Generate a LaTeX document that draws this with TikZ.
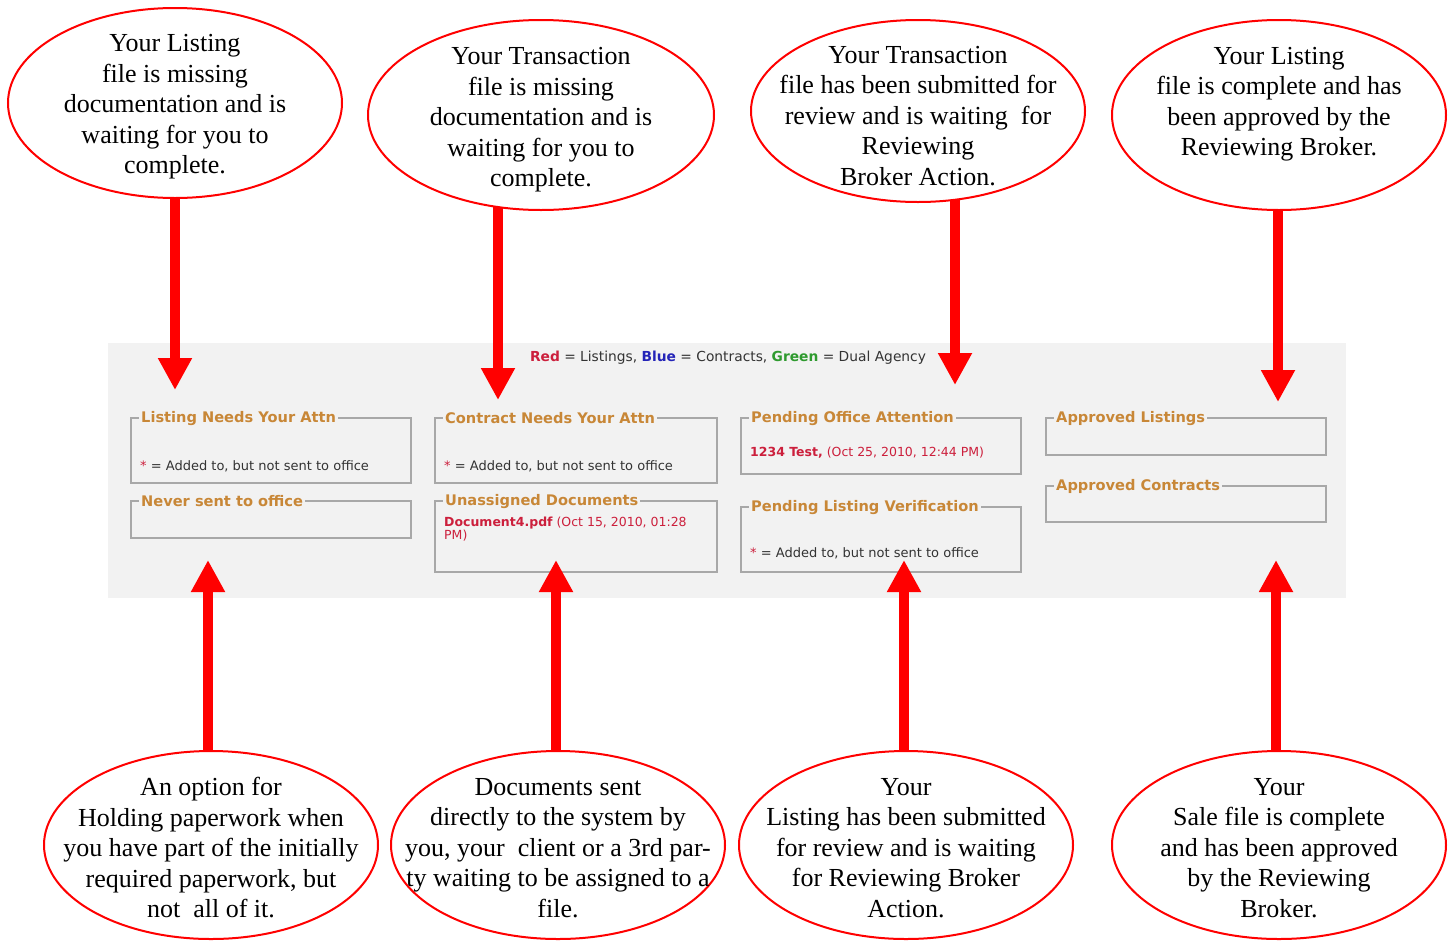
\documentclass[tikz,border=0pt]{standalone}
\usepackage{fontspec}
\setmainfont{Liberation Serif}
\newfontfamily\vsans{DejaVu Sans}
\usetikzlibrary{arrows.meta,shapes.geometric}
\pgfdeclarelayer{background}
\pgfdeclarelayer{foreground}
\pgfsetlayers{background,main,foreground}
\definecolor{panelgray}{HTML}{F2F2F2}
\definecolor{boxgray}{HTML}{A8A8A8}
\definecolor{legor}{RGB}{200,135,55}
\definecolor{crim}{HTML}{CC1F3C}
\definecolor{lblue}{HTML}{2424B8}
\definecolor{lgreen}{HTML}{2E9A2E}
\definecolor{dgray}{HTML}{333333}
\begin{document}
\begin{tikzpicture}[x=1pt,y=-1pt,
  ell/.style={ellipse, draw=red, line width=2pt, fill=white, inner sep=0pt, minimum width=334pt, minimum height=190pt},
  etext/.style={align=center, font=\fontsize{26}{30.5}\selectfont, inner sep=0pt},
  bigarrow/.style={draw=red, line width=10pt, -{Triangle[width=32pt,length=32pt]}},
  fbox/.style={draw=boxgray, line width=1.5pt, anchor=north west, inner sep=0pt},
  legt/.style={fill=panelgray, anchor=west, inner xsep=2pt, inner ysep=1pt, yshift=-1.5pt, text=legor, font=\vsans\bfseries\fontsize{14.6}{16}\selectfont},
  bodyt/.style={anchor=base west, inner sep=0pt, text=dgray, font=\vsans\fontsize{13}{13}\selectfont},
  redt/.style={anchor=base west, inner sep=0pt, text=crim, align=left, font=\vsans\fontsize{12.5}{13}\selectfont}
]
\useasboundingbox (0,0) rectangle (1453,940);

\begin{pgfonlayer}{background}
\fill[panelgray] (108,343) rectangle (1346,598);
\node[text=dgray, font=\vsans\fontsize{13.8}{15}\selectfont, inner sep=0pt] (legend) at (728,358)
  {{\bfseries\color{crim}Red} = Listings, {\bfseries\color{lblue}Blue} = Contracts, {\bfseries\color{lgreen}Green} = Dual Agency};
% boxes
\node[fbox, minimum width=280pt, minimum height=65pt] (bA) at (130,417) {};
\node[legt] (tA) at ([xshift=9pt]bA.north west) {Listing Needs Your Attn};
\node[bodyt] (xA) at (140,470) {{\color{crim}*} = Added to, but not sent to office};
\node[fbox, minimum width=280pt, minimum height=37pt] (bB) at (130,500) {};
\node[legt] (tB) at ([xshift=9pt]bB.north west) {Never sent to office};
\node[fbox, minimum width=282pt, minimum height=65pt] (bC) at (434,417) {};
\node[legt] (tC) at ([xshift=9pt]bC.north west) {Contract Needs Your Attn};
\node[bodyt] (xC) at (444,470) {{\color{crim}*} = Added to, but not sent to office};
\node[fbox, minimum width=282pt, minimum height=71pt] (bD) at (434,500) {};
\node[legt] (tD) at ([xshift=9pt]bD.north west) {Unassigned Documents};
\node[redt] (xD) at (444,539) {{\bfseries Document4.pdf} (Oct 15, 2010, 01:28\\PM)};
\node[fbox, minimum width=280pt, minimum height=56pt] (bE) at (740,417) {};
\node[legt] (tE) at ([xshift=9pt]bE.north west) {Pending Office Attention};
\node[redt] (xE) at (750,456) {{\bfseries 1234 Test,} (Oct 25, 2010, 12:44 PM)};
\node[fbox, minimum width=280pt, minimum height=65pt] (bF) at (740,506) {};
\node[legt] (tF) at ([xshift=9pt]bF.north west) {Pending Listing Verification};
\node[bodyt] (xF) at (750,557) {{\color{crim}*} = Added to, but not sent to office};
\node[fbox, minimum width=280pt, minimum height=37pt] (bG) at (1045,417) {};
\node[legt] (tG) at ([xshift=9pt]bG.north west) {Approved Listings};
\node[fbox, minimum width=280pt, minimum height=36pt] (bH) at (1045,485) {};
\node[legt] (tH) at ([xshift=9pt]bH.north west) {Approved Contracts};
\end{pgfonlayer}

\begin{pgfonlayer}{foreground}
\node[ell] (e1) at (175,103) {};
\node[ell, minimum width=346pt] (e2) at (541,115) {};
\node[ell, minimum height=182pt] (e3) at (918,111) {};
\node[ell] (e4) at (1279,115) {};
\node[ell, minimum height=188pt] (e5) at (211,845) {};
\node[ell, minimum height=188pt] (e6) at (558,845) {};
\node[ell, minimum height=188pt] (e7) at (906,845) {};
\node[ell, minimum height=188pt] (e8) at (1279,845) {};
\node[etext] (x1) at (175,107) {Your Listing\\file is missing\\documentation and is\\waiting for you to\\complete.};
\node[etext] (x2) at (541,120) {Your Transaction\\file is missing\\documentation and is\\waiting for you to\\complete.};
\node[etext] (x3) at (918,116) {Your Transaction\\file has been submitted for\\review and is waiting\ \ for\\Reviewing\\Broker Action.};
\node[etext] (x4) at (1279,104) {Your Listing\\file is complete and has\\been approved by the\\Reviewing Broker.};
\node[etext] (x5) at (211,848) {An option for\\Holding paperwork when\\you have part of the initially\\required paperwork, but\\not\ \ all of it.};
\node[etext] (x6) at (558,848) {Documents sent\\directly to the system by\\you, your\ \ client or a 3rd par-\\ty waiting to be assigned to a\\file.};
\node[etext] (x7) at (906,848) {Your\\Listing has been submitted\\for review and is waiting\\for Reviewing Broker\\Action.};
\node[etext] (x8) at (1279,848) {Your\\Sale file is complete\\and has been approved\\by the Reviewing\\Broker.};
\end{pgfonlayer}

\coordinate (t1) at (175,390);
\coordinate (t2) at (498,400);
\coordinate (t3) at (955,385);
\coordinate (t4) at (1278,402);
\coordinate (b1) at (208,560);
\coordinate (b2) at (556,560);
\coordinate (b3) at (904,560);
\coordinate (b4) at (1276,560);
\draw[bigarrow] (t1 |- e1.center) -- (t1);
\draw[bigarrow] (t2 |- e2.center) -- (t2);
\draw[bigarrow] (t3 |- e3.center) -- (t3);
\draw[bigarrow] (t4 |- e4.center) -- (t4);
\draw[bigarrow] (b1 |- e5.center) -- (b1);
\draw[bigarrow] (b2 |- e6.center) -- (b2);
\draw[bigarrow] (b3 |- e7.center) -- (b3);
\draw[bigarrow] (b4 |- e8.center) -- (b4);
\end{tikzpicture}
\end{document}
